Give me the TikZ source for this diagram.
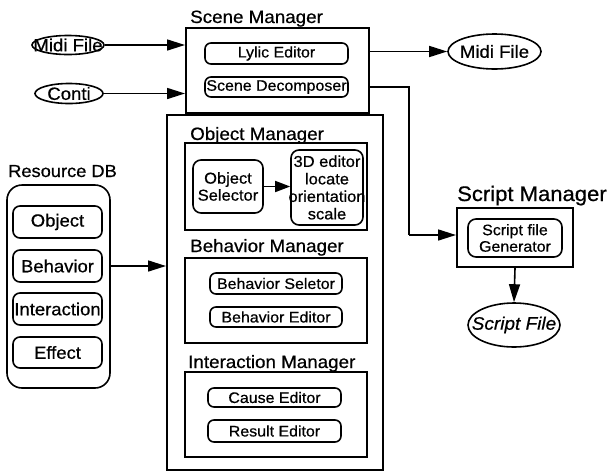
\documentclass[tikz,border=0pt]{standalone}
\usepackage{fontspec}
\setmainfont{Liberation Sans}[FakeStretch=1.05,FakeBold=0.6]
\usetikzlibrary{arrows.meta,shapes.geometric}

% zero-width centred line, so that text may run over a box edge
\newcommand{\ov}[1]{\makebox[0pt]{#1}}

\begin{document}
\begin{tikzpicture}[x=1pt,y=-1pt,
  frame/.style={draw,line width=2pt,inner sep=0pt},
  item/.style={draw,rounded corners=6pt,line width=1.6pt,inner sep=0pt,
    font=\fontsize{15.2}{16}\selectfont},
  bigitem/.style={item,rounded corners=7pt,font=\fontsize{17.6}{18}\selectfont},
  oval/.style={draw,ellipse,line width=1.6pt,inner sep=0pt,
    font=\fontsize{17.7}{18}\selectfont},
  title/.style={anchor=base west,inner sep=0pt,font=\fontsize{17.9}{19}\selectfont},
  arr/.style={line width=1.6pt,-{Triangle[length=18pt,width=11pt]}}]

\useasboundingbox (0,0) rectangle (607,472);

% ---- Scene Manager ----
\node[title] (smt) at (190,23) {Scene Manager};
\node[frame,minimum width=183,minimum height=85] (sm) at (277.5,70.5) {};
\node[item,minimum width=143,minimum height=21] (lylic) at (276.5,53.5) {\ov{Lylic Editor}};
\node[item,minimum width=143,minimum height=20] (sdec) at (276.5,87) {\ov{Scene Decomposer}};

% ---- inputs and output of the scene manager ----
\node[oval,minimum width=72,minimum height=19] (midiL) at (68,45) {\ov{Midi File}};
\node[oval,minimum width=68,minimum height=20] (conti) at (69,93.5) {\ov{Conti}};
\node[oval,minimum width=93,minimum height=35] (midiR) at (494.5,51.5) {\ov{Midi File}};

\draw[arr] (midiL.east) -- (midiL.east -| sm.west);
\draw[arr] (conti.east) -- (conti.east -| sm.west);
\draw[arr] (midiR.west -| sm.east) -- (midiR.west);

% ---- editing managers ----
\node[frame,minimum width=216,minimum height=355] (big) at (275,292.5) {};

\node[title] (omt) at (190,140) {Object Manager};
\node[frame,minimum width=182,minimum height=87] (om) at (276,186.5) {};
\node[item,rounded corners=8pt,minimum width=70,minimum height=53,align=center,
  font=\fontsize{15.7}{17}\selectfont] (osel) at (228,186.5) {\ov{Object}\\\ov{Selector}};
\node[item,rounded corners=8pt,minimum width=72,minimum height=75,align=center,
  font=\fontsize{15.7}{17.5}\selectfont] (ed3d) at (327,187.5)
  {\ov{3D editor}\\\ov{locate}\\\ov{orientation}\\\ov{scale}};
\draw[arr,-{Triangle[length=15pt,width=11pt]}] (osel.east) -- (osel.east -| ed3d.west);

\node[title] (bmt) at (190,252) {Behavior Manager};
\node[frame,minimum width=182,minimum height=85] (bm) at (276,300.5) {};
\node[item,minimum width=132,minimum height=21] (bsel) at (276,283.5) {\ov{Behavior Seletor}};
\node[item,minimum width=132,minimum height=20] (bed) at (276,317) {\ov{Behavior Editor}};

\node[title] (imt) at (188,368) {Interaction Manager};
\node[frame,minimum width=182,minimum height=85] (im) at (276,414.5) {};
\node[item,minimum width=133,minimum height=19] (cause) at (274.5,397.5) {\ov{Cause Editor}};
\node[item,minimum width=133,minimum height=22] (result) at (274.5,431) {\ov{Result Editor}};

% ---- Resource DB ----
\node[title,font=\fontsize{17.4}{18}\selectfont] (rdbt) at (8,177) {Resource DB};
\node[draw,line width=1.6pt,rounded corners=15pt,minimum width=103,minimum height=203,
  inner sep=0pt] (rdb) at (58.5,286.5) {};
\node[bigitem,minimum width=89,minimum height=32] (robj) at (57.5,222) {\ov{Object}};
\node[bigitem,minimum width=89,minimum height=32] (rbeh) at (57.5,266) {\ov{Behavior}};
\node[bigitem,minimum width=89,minimum height=32] (rint) at (57.5,309) {\ov{Interaction}};
\node[bigitem,minimum width=89,minimum height=31] (reff) at (57.5,352.5) {\ov{Effect}};

\draw[arr] (rdb.east |- rbeh) -- (rbeh -| big.west);

% ---- Script Manager ----
\node[title,font=\fontsize{21}{22}\selectfont] (scmt) at (457,201) {Script Manager};
\node[frame,minimum width=116,minimum height=59] (scm) at (515,237.5) {};
\node[item,rounded corners=8pt,minimum width=94,minimum height=38,align=center,
  font=\fontsize{15.2}{16.5}\selectfont] (sgen) at (515,238) {\ov{Script file}\\\ov{Generator}};
\node[oval,minimum width=92,minimum height=44,font=\fontsize{18.1}{19}\selectfont\itshape]
  (sfile) at (514,325) {\ov{Script File}};

\coordinate (bend) at (409,235);
\draw[line width=1.6pt] (sdec.east -| sm.east) -| (bend);
\draw[arr] (bend) -- (bend -| scm.west);
\draw[arr] (scm.south) -- (sfile.north);

\end{tikzpicture}
\end{document}
